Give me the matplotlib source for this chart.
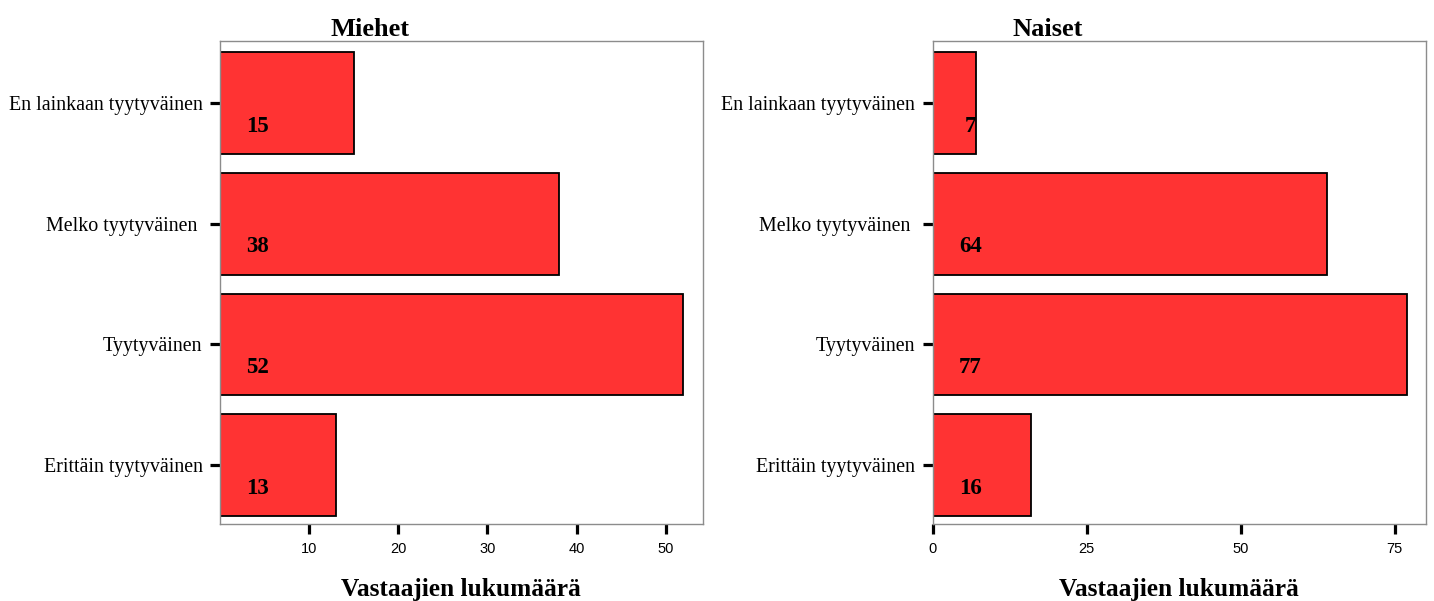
import matplotlib.pyplot as plt

# vastaukset ylhäältä alas
categories = ["En lainkaan tyytyväinen", "Melko tyytyväinen ", "Tyytyväinen", "Erittäin tyytyväinen"]
miehet = [15, 38, 52, 13]
naiset = [7, 64, 77, 16]

BAR_COLOR = "#ff3333"
SERIF = ["Liberation Serif", "DejaVu Serif"]
SANS = ["Liberation Sans", "DejaVu Sans"]


def draw_panel(ax, values, title, xlim, xticks, title_x):
    pos = list(range(len(values)))
    ax.barh(pos, values, height=0.845, color=BAR_COLOR, edgecolor="black", linewidth=1.3)
    ax.set_ylim(3.49, -0.515)
    ax.set_xlim(*xlim)
    ax.set_xticks(xticks)
    ax.set_xticklabels([str(t) for t in xticks], family=SANS, fontsize=10.5)
    ax.set_yticks(pos)
    ax.set_yticklabels(categories, family=SERIF, fontsize=14.4)
    ax.tick_params(axis="both", direction="out", length=7.5, width=2.3, color="black")
    ax.tick_params(axis="x", pad=5)
    ax.tick_params(axis="y", pad=5)
    for sp in ax.spines.values():
        sp.set_color("#8c8c8c")
        sp.set_linewidth(1.0)

    # arvot palkin vasempaan alakulmaan
    for p, v in zip(pos, values):
        ax.annotate(str(v), xy=(0, p), xytext=(27, -16.5), textcoords="offset points",
                    ha="center", va="center", family=SERIF, fontsize=16.5, fontweight="bold")

    ax.set_xlabel("Vastaajien lukumäärä", family=SERIF, fontsize=18.3,
                  fontweight="bold", labelpad=16)
    ax.set_title(title, x=title_x, family=SERIF, fontsize=19, fontweight="bold", pad=2)


fig = plt.figure(figsize=(14.34, 6.01), dpi=100)
ax1 = fig.add_axes([0.1534, 0.1276, 0.3366, 0.8042])
ax2 = fig.add_axes([0.6504, 0.1276, 0.3438, 0.8042])

draw_panel(ax1, miehet, "Miehet", (0, 54.15), [10, 20, 30, 40, 50], 0.311)
draw_panel(ax2, naiset, "Naiset", (0, 80), [0, 25, 50, 75], 0.234)

fig.savefig("out.png", dpi=100)
plt.close(fig)
